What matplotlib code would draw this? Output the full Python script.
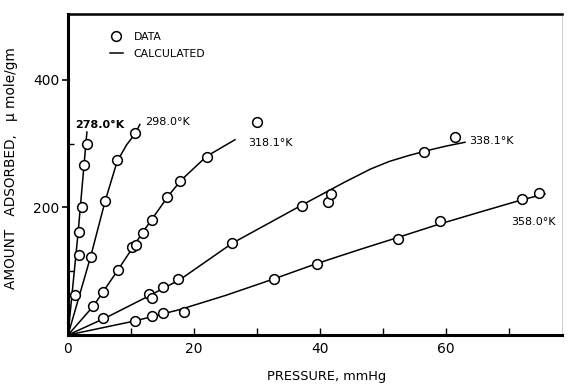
import matplotlib
matplotlib.use("Agg")
import matplotlib.pyplot as plt
from matplotlib.lines import Line2D
from matplotlib.ticker import MultipleLocator, FixedLocator

plt.rcParams['font.family'] = ['DejaVu Sans']

# Measured adsorption isotherms (pressure in mmHg, amount in umole/gm)
p_278 = [1.1, 1.75, 1.8, 2.17, 2.54, 2.97]
q_278 = [63, 125, 162, 201, 266, 300]
p_298 = [3.6, 5.87, 7.73, 10.68]
q_298 = [123, 210, 275, 316]
p_318 = [4.0, 5.6, 7.9, 10.1, 10.8, 11.85, 13.3, 15.7, 17.8, 22.0, 29.95]
q_318 = [45, 68, 102, 138, 141, 160, 180, 217, 241, 279, 333]
p_338 = [5.5, 12.9, 13.3, 15.0, 17.5, 26.1, 37.2, 41.3, 41.7, 56.5, 61.4]
q_338 = [26, 64, 58, 75, 87, 144, 202, 208, 221, 287, 310]
p_358 = [10.6, 13.3, 15.0, 18.4, 32.7, 39.5, 52.4, 59.0, 72.1, 74.7]
q_358 = [22, 29, 34, 36, 88, 112, 150, 178, 213, 222]

# Calculated isotherms
pc_278 = [0, 1.6, 3.0]
qc_278 = [0, 160, 318]
pc_298 = [0, 3.6, 5.9, 7.8, 9.3, 10.7, 11.4]
qc_298 = [0, 123, 210, 272, 298, 316, 330]
pc_318 = [0, 4, 8, 12, 16, 18, 22, 26.5]
qc_318 = [0, 45, 103, 163, 219, 243, 280, 306]
pc_338 = [0, 6, 13, 17.8, 26.1, 37.2, 44, 48, 51, 54, 57, 60, 63]
qc_338 = [0, 27, 62, 87, 144, 204, 240, 260, 272, 281, 289, 296, 302]
pc_358 = [0, 10.6, 17.8, 25, 32.7, 39.5, 46, 52.4, 59, 65.5, 72.1, 75.7]
qc_358 = [0, 22, 40, 62, 88, 112, 133, 153, 174, 193, 212, 221]

temp_labels = ["278.0°K", "298.0°K", "318.1°K", "338.1°K", "358.0°K"]
label_pos = [(1.2, 329), (12.2, 334), (28.6, 301), (63.6, 304), (70.4, 177)]

fig = plt.figure(figsize=(5.71, 3.84), dpi=100)
ax = fig.add_axes([68 / 571, 1 - 335 / 384, 494 / 571, 321 / 384])

mk = dict(marker='o', linestyle='none', markersize=7, markerfacecolor='white',
          markeredgecolor='black', markeredgewidth=1.1, zorder=3)
ln = dict(color='black', linewidth=1.1, zorder=2)

for pc, qc in [(pc_278, qc_278), (pc_298, qc_298), (pc_318, qc_318),
               (pc_338, qc_338), (pc_358, qc_358)]:
    ax.plot(pc, qc, **ln)
for p, q in [(p_278, q_278), (p_298, q_298), (p_318, q_318),
             (p_338, q_338), (p_358, q_358)]:
    ax.plot(p, q, **mk)

for txt, (x, y) in zip(temp_labels, label_pos):
    ax.text(x, y, txt, fontsize=8, ha='left', va='center',
            fontweight='bold' if txt.startswith('278') else 'normal')

ax.set_xlim(0, 78.4)
ax.set_ylim(0, 503)

ax.xaxis.set_major_locator(MultipleLocator(20))
ax.xaxis.set_minor_locator(MultipleLocator(10))
ax.yaxis.set_major_locator(FixedLocator([200, 400]))
ax.yaxis.set_minor_locator(FixedLocator([100, 300]))
ax.tick_params(axis='x', which='both', direction='in', length=5, width=1,
               labelsize=10, pad=5)
ax.tick_params(axis='y', which='major', direction='out', length=4, width=1.2,
               labelsize=10, pad=2)
ax.tick_params(axis='y', which='minor', direction='in', length=4, width=1)
ax.tick_params(top=False, right=False)

for side in ['left', 'bottom']:
    ax.spines[side].set_linewidth(2.2)
ax.spines['top'].set_linewidth(1.8)
ax.spines['right'].set_linewidth(0.6)
ax.spines['right'].set_color('#c8c8c8')

ax.set_xlabel("PRESSURE, mmHg", fontsize=9.3)
ax.xaxis.set_label_coords(0.524, -0.11)
ax.set_ylabel("AMOUNT   ADSORBED,   μ mole/gm", fontsize=9.8)
ax.yaxis.set_label_coords(-0.102, 0.52)

handles = [Line2D([], [], marker='o', linestyle='none', markersize=7,
                  markerfacecolor='white', markeredgecolor='black',
                  markeredgewidth=1.1),
           Line2D([], [], color='black', linewidth=1.1)]
ax.legend(handles, ["DATA", "CALCULATED"], loc='upper left',
          bbox_to_anchor=(0.065, 0.975), frameon=False, fontsize=7.8,
          handlelength=1.2, handletextpad=1.0, labelspacing=0.65)

fig.savefig("out.png", dpi=100)
